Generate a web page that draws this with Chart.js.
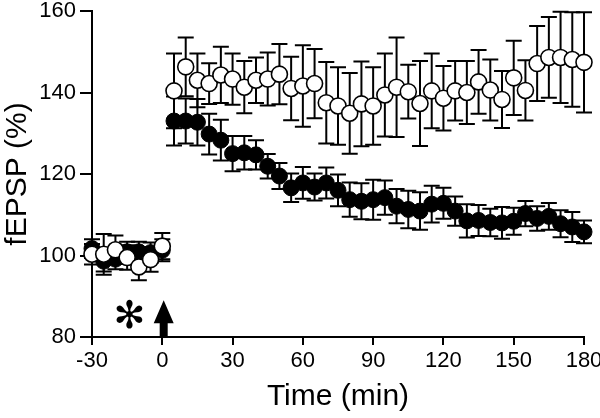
<!DOCTYPE html>
<html>
<head>
<meta charset="utf-8">
<script src="https://cdn.jsdelivr.net/npm/chart.js@4.4.0/dist/chart.umd.min.js"></script>
<style>
  html, body { margin: 0; padding: 0; background: #fff; }
  #wrap { width: 600px; height: 418px; }
</style>
</head>
<body>
<div id="wrap"><canvas id="mycanvas" width="600" height="418"></canvas></div>
<script>
// time points (min)
var time = [-30, -25, -20, -15, -10, -5, 0,
	5, 10, 15, 20, 25, 30, 35, 40, 45,
	50, 55, 60, 65, 70, 75, 80, 85, 90, 95, 100, 105, 110, 115, 120, 125,
	130, 135, 140, 145, 150, 155, 160, 165, 170, 175, 180];

// open circles
var openMean = [100.3, 100.3, 101.4, 99.5, 97.2, 99.0, 102.3,
	140.4, 146.3, 143.0, 142.2, 144.3, 143.3, 141.3, 143.0, 143.3,
	144.5, 141.0, 141.6, 142.2, 137.5, 136.7, 134.9, 137.2, 136.7, 139.4, 141.3, 140.2, 137.3, 140.4, 138.6, 140.4,
	140.0, 142.6, 140.6, 138.3, 143.6, 140.5, 147.1, 148.6, 148.6, 148.1, 147.4];
var openSem = [2.5, 5.0, 3.5, 3.0, 3.3, 3.0, 3.2,
	9.2, 7.2, 6.6, 5.0, 6.9, 6.3, 6.4, 5.6, 6.5,
	7.4, 7.8, 10.0, 8.5, 10.0, 9.5, 9.9, 10.4, 9.5, 10.2, 12.2, 6.6, 10.4, 9.2, 7.9, 7.3,
	7.7, 7.8, 7.5, 7.0, 9.1, 7.4, 9.2, 9.9, 11.2, 11.6, 12.3];

// filled circles
var filledMean = [101.7, 98.6, 99.1, 100.9, 100.9, 100.7, 101.3,
	133.0, 133.0, 132.7, 129.8, 128.3, 125.0, 125.2, 124.7, 121.9,
	119.5, 116.6, 117.8, 116.8, 117.8, 116.0, 113.7, 113.3, 113.7, 114.2, 112.1, 111.3, 110.9, 112.6, 112.8, 110.9,
	108.5, 108.6, 108.1, 108.0, 108.4, 110.3, 109.1, 109.6, 107.8, 107.0, 105.8];
var filledSem = [2.3, 2.5, 2.5, 2.5, 2.5, 2.5, 2.7,
	6.0, 5.5, 5.7, 5.0, 5.0, 4.3, 4.1, 3.6, 3.0,
	3.2, 3.5, 3.9, 3.3, 3.8, 3.9, 4.2, 4.4, 4.9, 4.2, 4.2, 4.6, 4.6, 4.5, 3.8, 3.6,
	4.1, 3.8, 3.4, 3.9, 3.3, 3.1, 3.0, 3.3, 3.3, 3.7, 2.8];

var xTicks = [-30, 0, 30, 60, 90, 120, 150, 180];
var yTicks = [80, 100, 120, 140, 160];

// markers under the plot: asterisk and arrow (data coords)
var starAt = [-14, 84.6];
var arrowAt = [0.6, 80, 89];

function pts(m) {
	var out = [];
	for (var i in time) out.push({x: time[i], y: m[i]});
	return out;
}

var font = "'Liberation Sans', Arial, sans-serif";

var errorBars = {
	id: 'errorBars',
	beforeDatasetDraw: function(chart, args) {
		var ds = chart.data.datasets[args.index];
		var ys = chart.scales.y;
		var ctx = chart.ctx;
		ctx.save();
		ctx.strokeStyle = '#000';
		ctx.lineWidth = 2;
		args.meta.data.forEach(function(p, i) {
			var m = ds.data[i].y, e = ds.sem[i];
			var top = ys.getPixelForValue(m + e), bot = ys.getPixelForValue(m - e);
			ctx.beginPath();
			ctx.moveTo(p.x, top); ctx.lineTo(p.x, bot);
			ctx.moveTo(p.x - 8, top); ctx.lineTo(p.x + 8, top);
			ctx.moveTo(p.x - 8, bot); ctx.lineTo(p.x + 8, bot);
			ctx.stroke();
		});
		ctx.restore();
	}
};

var marks = {
	id: 'marks',
	afterDraw: function(chart) {
		var ctx = chart.ctx, xs = chart.scales.x, ys = chart.scales.y;
		ctx.save();
		// asterisk
		ctx.fillStyle = '#000';
		ctx.font = "38px 'DejaVu Sans'";
		ctx.textAlign = 'center';
		ctx.textBaseline = 'middle';
		ctx.fillText('\u273B', xs.getPixelForValue(starAt[0]), ys.getPixelForValue(starAt[1]));
		// arrow
		var ax = xs.getPixelForValue(arrowAt[0]);
		var y0 = ys.getPixelForValue(arrowAt[1]), y1 = ys.getPixelForValue(arrowAt[2]);
		var headBase = y1 + 23;
		ctx.beginPath();
		ctx.moveTo(ax - 4, y0);
		ctx.lineTo(ax - 4, headBase);
		ctx.lineTo(ax - 10, headBase);
		ctx.lineTo(ax, y1);
		ctx.lineTo(ax + 10, headBase);
		ctx.lineTo(ax + 4, headBase);
		ctx.lineTo(ax + 4, y0);
		ctx.closePath();
		ctx.fill();
		ctx.restore();
	}
};

var ctx = document.getElementById('mycanvas');

var chart = new Chart(ctx, {
	type: 'scatter',
	data: {
		datasets: [
			{
				label: 'open',
				data: pts(openMean),
				sem: openSem,
				pointRadius: 8,
				pointHoverRadius: 8,
				pointBackgroundColor: '#fff',
				pointBorderColor: '#000',
				pointBorderWidth: 1.6,
				showLine: false,
				clip: false
			},
			{
				label: 'filled',
				data: pts(filledMean),
				sem: filledSem,
				pointRadius: 8,
				pointHoverRadius: 8,
				pointBackgroundColor: '#000',
				pointBorderColor: '#000',
				pointBorderWidth: 1,
				showLine: false,
				clip: false
			}
		]
	},
	options: {
		responsive: false,
		animation: false,
		events: [],
		layout: { padding: { top: 11, right: 16, bottom: 0, left: 0 } },
		plugins: { legend: { display: false }, tooltip: { enabled: false } },
		scales: {
			x: {
				type: 'linear',
				min: -30, max: 180,
				afterFit: function(s) { s.height = 81; s.paddingRight = 0; s.paddingLeft = 0; },
				afterBuildTicks: function(s) { s.ticks = xTicks.map(function(v) { return {value: v}; }); },
				border: { display: true, color: '#000', width: 2 },
				grid: { drawOnChartArea: false, drawTicks: true, tickLength: 8, color: '#000', lineWidth: 2 },
				ticks: { color: '#000', font: { family: font, size: 22 }, padding: 3, maxRotation: 0 },
				title: { display: true, text: 'Time (min)', color: '#000', font: { family: font, size: 30 }, padding: { top: 2, bottom: 3 } }
			},
			y: {
				min: 80, max: 160,
				afterFit: function(s) { s.width = 92; s.paddingTop = 0; s.paddingBottom = 0; },
				afterBuildTicks: function(s) { s.ticks = yTicks.map(function(v) { return {value: v}; }); },
				border: { display: true, color: '#000', width: 2 },
				grid: { drawOnChartArea: false, drawTicks: true, tickLength: 12, color: '#000', lineWidth: 2 },
				ticks: { color: '#000', font: { family: font, size: 22 }, padding: 4 },
				title: { display: true, text: 'fEPSP (%)', color: '#000', font: { family: font, size: 30 }, padding: { top: 0, bottom: 4 } }
			}
		}
	},
	plugins: [errorBars, marks]
});
</script>
</body>
</html>
